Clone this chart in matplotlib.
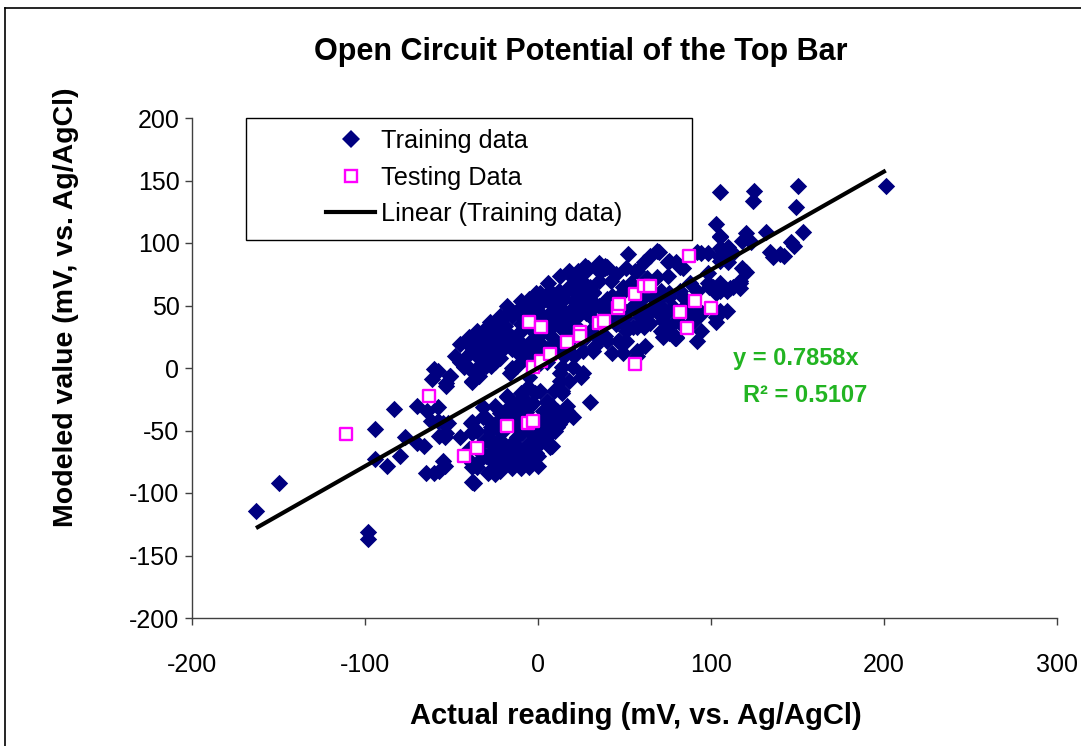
import matplotlib
matplotlib.use("Agg")
import matplotlib.pyplot as plt
from matplotlib.patches import Rectangle
from matplotlib.lines import Line2D
import numpy as np

plt.rcParams['font.family'] = ['Liberation Sans', 'DejaVu Sans']
plt.rcParams['axes.unicode_minus'] = False

# ---------------- data ----------------
train_pts = [
    # sparse left tail
    (-163, -114), (-150, -92), (-98, -131), (-98, -137), (-94, -49), (-83, -33),
    (-70, -30), (-64, -34), (-60, -1), (-61, -9), (-62, -42), (-58, -31),
    (-94, -73), (-87, -78), (-80, -70), (-77, -55), (-70, -60), (-66, -62),
    (-65, -84), (-60, -84), (-57, -54), (-53, -14), (-51, -6), (-52, -44),
    (-54, -55), (-54, -78), (-43, 2), (-36, -1), (-32, 2), (-27, 2), (-38, -11),
    (-38, -43), (-38, -51), (-35, -79), (-37, -92), (-26, -75), (-21, -71),
    (-28, -58), (-27, -47), (-32, -31),
    # upper blob
    (-45, 19), (-37, 22), (-32, 30), (-28, 37), (-38, 14), (-42, 8),
    (-22, 42), (-19, 34), (-15, 42), (-10, 54), (-5, 46), (1, 58),
    (6, 68), (13, 74), (18, 78), (23, 78), (27, 82), (35, 84), (39, 80),
    (-6, 49), (-15, 44), (-22, 38), (-28, 32), (-34, 22), (-38, 17),
    (-39, 17), (-31, 30), (-24, 38), (-16, 46), (-9, 50), (-1, 60), (6, 57),
    (12, 62), (18, 65), (20, 62), (-28, 22), (-18, 28), (-5, 36), (7, 62),
    (-30, 20), (-25, 25), (-20, 30), (-15, 25), (-10, 30), (-5, 20), (0, 25),
    (5, 30), (10, 35), (15, 30), (-20, 15), (-10, 10), (0, 15), (10, 15),
    (-25, 5), (-15, 0), (-5, 5), (5, 5), (15, 10), (-12, 45), (-8, 40),
    (-2, 38), (3, 42), (8, 46), (12, 50), (18, 45), (22, 40), (25, 48),
    (30, 42), (-18, 50), (-35, 30), (-40, 25), (-30, 10), (16, 62),
    (21, 54), (10, 46), (30, 46), (36, 38), (30, 30), (39, 26), (47, 22),
    (33, 18), (21, 10), (13, 18), (1, 60), (6, 54), (32, 61), (28, 54),
    (25, 69), (20, 65), (43, 58), (49, 61), (13, -4), (20, 1), (25, -7),
    (36, 24), (32, 14), (26, 14), (26, -4),
    (-35, 10), (-30, 15), (-25, 15), (-20, 20), (-15, 15), (-10, 20),
    (-5, 15), (0, 10), (5, 15), (10, 20), (15, 20), (20, 25), (25, 30),
    (-20, 40), (-10, 35), (0, 30), (5, 40), (15, 40), (20, 35), (-5, 55),
    (0, 50), (10, 55), (15, 55), (25, 60), (30, 55), (35, 50), (40, 55),
    (45, 50), (40, 45), (45, 35), (-45, 5), (-48, 10), (-40, 0), (-3, 45),
    (13, 40), (23, 50), (30, 65), (35, 70), (42, 70), (45, 75), (20, 72),
    (-2, 28), (8, 25), (-12, 18), (-22, 8), (-30, 2), (3, 18), (17, 15),
    # middle / right band
    (52, 91), (65, 90), (70, 93), (75, 85), (80, 85), (84, 80), (94, 92),
    (105, 89), (113, 92), (29, 80), (39, 82), (36, 77), (51, 80), (56, 78),
    (63, 72), (62, 66), (43, 12), (50, 21), (57, 10), (66, 57), (72, 48),
    (78, 49), (72, 28), (79, 24), (90, 42), (99, 65), (111, 64), (117, 68),
    (51, 30), (55, 33), (59, 41), (94, 30), (103, 37), (88, 36),
    (61, 85), (57, 78), (76, 86), (82, 81), (75, 74), (69, 73), (69, 94),
    (28, 78), (35, 82), (40, 81), (26, 69), (32, 60), (49, 65), (54, 68),
    (92, 93), (98, 92), (105, 96), (98, 76), (105, 68), (109, 62),
    (71, 62), (76, 57), (82, 62), (88, 68), (28, 44), (36, 49), (43, 42),
    (51, 45), (59, 49), (65, 45), (71, 42), (49, 36), (57, 33), (63, 36),
    (71, 30), (76, 33), (82, 36), (90, 38), (95, 44), (103, 41), (109, 46),
    (46, 22), (51, 22), (57, 14), (49, 12), (72, 25), (80, 25), (92, 22),
    (28, 25), (34, 25), (40, 22), (69, 54), (76, 60), (84, 57), (92, 62),
    (88, 44), (92, 44), (80, 38), (72, 38), (98, 68), (101, 65), (103, 60),
    (61, 33), (65, 36), (76, 28), (80, 24),
    (50, 40), (55, 50), (60, 55), (65, 60), (70, 50), (75, 45), (85, 50),
    (62, 18),
    # upper right
    (150, 146), (201, 146), (125, 142), (124, 134), (149, 129), (153, 109),
    (148, 98), (146, 101), (134, 93), (140, 91), (142, 90), (136, 89),
    (132, 109), (120, 108), (118, 102), (123, 101), (110, 97), (107, 94),
    (109, 89), (105, 106), (105, 141), (118, 80), (120, 77), (117, 70),
    (113, 65), (117, 64), (105, 62), (105, 46), (110, 85), (105, 86),
    (103, 115), (105, 105),
    # lower blob
    (-38, -91), (-16, -71), (-5, -66), (1, -60), (-29, -58), (-22, -50),
    (-12, -55), (5, -44), (8, -39), (3, -34), (-3, -28), (1, -18), (9, -18),
    (-6, -15), (-5, -7), (-17, -31), (-22, -36), (-24, -60), (-34, -66),
    (-38, -76), (30, -27), (14, -18), (17, -30), (6, -28), (11, -34),
    (-20, -40), (-15, -45), (-10, -40), (-5, -50), (0, -45), (5, -55),
    (10, -50), (-25, -65), (-15, -60), (-10, -70), (0, -70), (-5, -75),
    (-20, -75), (-30, -70), (-12, -30), (-8, -25), (2, -40), (12, -45),
    (15, -40), (-18, -22), (-25, -45), (-2, -60), (8, -62), (-28, -50),
    (-43, 1), (-38, -10), (-34, -6), (-51, -6), (-53, -12), (-58, -2),
    (-39, -44), (-32, -39), (-38, -52), (-53, -52), (-55, -44), (-58, -42),
    (-31, -58), (-26, -58), (-34, -74), (-38, -79), (-24, -76), (-28, -82),
    (-55, -74), (-57, -82), (-18, -23), (-12, -28), (-5, -31), (5, -26),
    (14, -20), (17, -34), (11, -47), (1, -60), (-9, -66), (-14, -60),
    (-18, -68), (13, -10), (18, -10), (14, 1), (1, 4), (-12, 2), (-16, -4),
    (-5, -42), (5, -47), (-9, -52), (-1, -68), (7, -63), (-5, -79),
    (-12, -74), (-22, -82), (-29, -84), (20, -39),
    (-25, -30), (-20, -50), (-15, -35), (-10, -50), (-5, -60), (0, -55),
    (-8, -45), (-12, -65), (-20, -60), (5, -35), (-2, -20), (-10, -20),
    (-30, -40), (-35, -50), (-25, -85), (-15, -80), (-10, -80), (0, -78),
    (-40, -65), (-45, -55), (3, -50), (8, -30), (-7, -35),
]

test_pts = [
    (-111, -53), (-63, -22), (-43, -70), (-35, -64), (-18, -46), (-6, -44),
    (-3, -42), (-5, 37), (2, 33), (-3, 1), (2, 6), (7, 11), (17, 21),
    (24, 29), (24, 26), (35, 36), (38, 38), (46, 48), (47, 51), (56, 59),
    (61, 66), (65, 66), (56, 3), (82, 45), (86, 32), (91, 54), (100, 48),
    (87, 90),
]

train_x = [p[0] for p in train_pts]
train_y = [p[1] for p in train_pts]
test_x = [p[0] for p in test_pts]
test_y = [p[1] for p in test_pts]

TREND_SLOPE = 0.7858
R_SQUARED = 0.5107

x_ticks = [-200, -100, 0, 100, 200, 300]
y_ticks = [-200, -150, -100, -50, 0, 50, 100, 150, 200]

# ---------------- figure ----------------
W, H = 1081, 746
fig = plt.figure(figsize=(W / 100, H / 100), dpi=100)
fig.patch.set_facecolor('white')

def fx(px):
    return px / W

def fy(py):
    return 1 - py / H

ax = fig.add_axes([fx(192), fy(618), fx(1057) - fx(192), fy(118) - fy(618)])

navy = '#000080'
magenta = '#FF00FF'

ax.scatter(train_x, train_y, marker='D', s=78, color=navy, linewidths=0,
           zorder=2, label='Training data')
ax.scatter(test_x, test_y, marker='s', s=72, facecolor='white',
           edgecolor=magenta, linewidths=1.7, zorder=3, label='Testing Data')
xl = np.array([min(train_x), max(train_x)])
ax.plot(xl, TREND_SLOPE * xl, color='black', lw=3, zorder=4,
        label='Linear (Training data)', solid_capstyle='butt')

ax.set_xlim(-200, 300)
ax.set_ylim(-200, 200)
ax.set_xticks(x_ticks)
ax.set_yticks(y_ticks)
ax.tick_params(axis='both', direction='out', length=5, width=1,
               color='#404040', labelsize=18)
ax.tick_params(axis='x', pad=20)
ax.tick_params(axis='y', pad=4)
for s in ['top', 'right']:
    ax.spines[s].set_visible(False)
for s in ['left', 'bottom']:
    ax.spines[s].set_color('#404040')
    ax.spines[s].set_linewidth(1)

# legend box
rect = Rectangle((fx(246), fy(240)), fx(692) - fx(246), fy(118) - fy(240),
                 transform=fig.transFigure, facecolor='white',
                 edgecolor='black', lw=1, zorder=5)
ax.add_patch(rect)
rect.set_clip_on(False)

handles = [
    Line2D([], [], marker='D', ls='none', color=navy, ms=9, mew=0),
    Line2D([], [], marker='s', ls='none', mfc='white', mec=magenta, ms=8, mew=1.7),
    Line2D([], [], color='black', lw=3),
]
labels = ['Training data', 'Testing Data', 'Linear (Training data)']
leg = ax.legend(handles, labels, loc='upper left',
                bbox_to_anchor=(fx(326), fy(129)), bbox_transform=fig.transFigure,
                frameon=False, fontsize=18.2, handlelength=1.95,
                handletextpad=0.22, labelspacing=0.5, borderpad=0,
                borderaxespad=0)
leg.set_zorder(6)

# equation text
eq_color = '#22B422'
fig.text(fx(796), fy(358), 'y = 0.7858x', color=eq_color, fontsize=17,
         fontweight='bold', ha='center', va='center')
fig.text(fx(805), fy(395), 'R² = %.4f' % R_SQUARED, color=eq_color, fontsize=17,
         fontweight='bold', ha='center', va='center')

# titles
fig.text(fx(581), fy(52), 'Open Circuit Potential of the Top Bar', fontsize=22,
         fontweight='bold', ha='center', va='center')
fig.text(fx(636), fy(716), 'Actual reading (mV, vs. Ag/AgCl)', fontsize=21,
         fontweight='bold', ha='center', va='center')
fig.text(fx(66), fy(307), 'Modeled value (mV, vs. Ag/AgCl)', fontsize=20.5,
         fontweight='bold', ha='center', va='center', rotation=90)

# outer chart border (left & top visible)
fig.add_artist(Line2D([fx(5), fx(5)], [0, fy(8)], transform=fig.transFigure,
                      color='black', lw=1.2))
fig.add_artist(Line2D([fx(5), 1], [fy(8), fy(8)], transform=fig.transFigure,
                      color='black', lw=1.2))

fig.savefig('out.png', dpi=100)
